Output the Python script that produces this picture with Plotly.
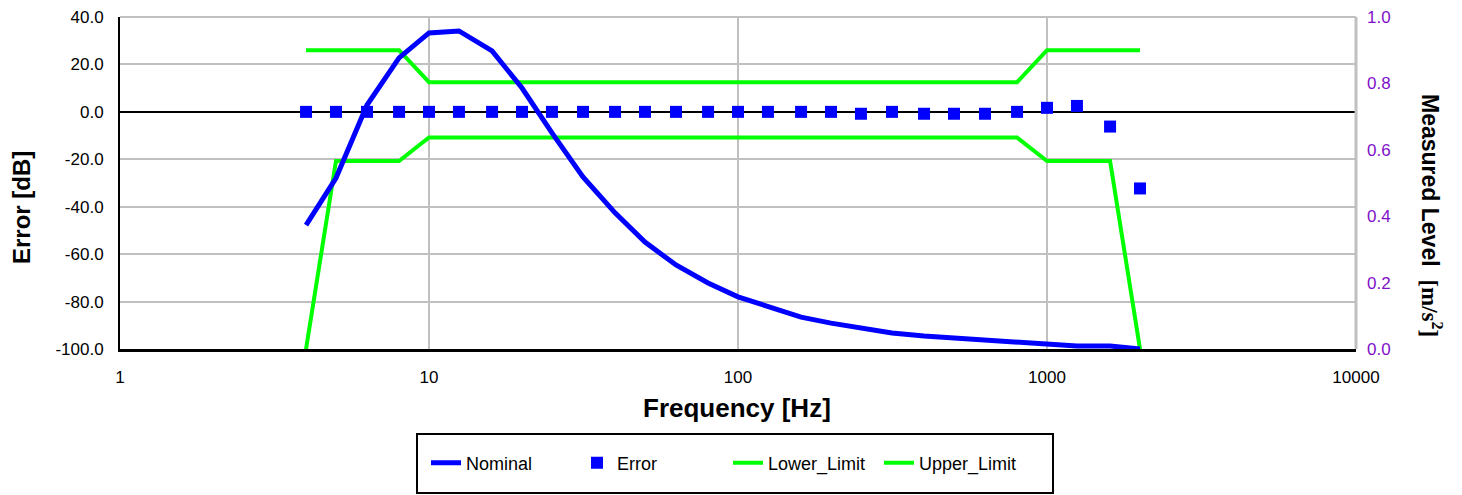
import plotly.graph_objects as go

# ---- data ----
freq = [4, 5, 6.3, 8, 10, 12.5, 16, 20, 25, 31.5, 40, 50, 63, 80, 100, 125, 160,
        200, 250, 315, 400, 500, 630, 800, 1000, 1250, 1600, 2000]
nominal = [0.373, 0.515, 0.735, 0.877, 0.952, 0.958, 0.898, 0.786, 0.651, 0.518,
           0.410, 0.322, 0.253, 0.199, 0.157, 0.127, 0.096, 0.078, 0.063, 0.048,
           0.039, 0.033, 0.027, 0.021, 0.015, 0.009, 0.009, 0.0]
error_db = [0.0, 0.0, 0.0, 0.0, 0.0, 0.0, 0.0, 0.0, 0.0, 0.0, 0.0, 0.0, 0.0, 0.0,
            0.0, 0.0, 0.0, 0.0, -0.8, 0.0, -0.8, -0.8, -0.8, 0.0, 1.7, 2.5, -6.2, -32.3]
lower_limit = [-100, -20.7, -20.7, -20.7, -10.8, -10.8, -10.8, -10.8, -10.8, -10.8,
               -10.8, -10.8, -10.8, -10.8, -10.8, -10.8, -10.8, -10.8, -10.8, -10.8,
               -10.8, -10.8, -10.8, -10.8, -20.7, -20.7, -20.7, -100]
upper_limit = [26, 26, 26, 26, 12.5, 12.5, 12.5, 12.5, 12.5, 12.5, 12.5, 12.5, 12.5,
               12.5, 12.5, 12.5, 12.5, 12.5, 12.5, 12.5, 12.5, 12.5, 12.5, 12.5,
               26, 26, 26, 26]

x_tickvals = [1, 10, 100, 1000, 10000]
x_ticktext = ["1", "10", "100", "1000", "10000"]
y_tickvals = [-100, -80, -60, -40, -20, 0, 20, 40]
y_ticktext = ["-100.0", "-80.0", "-60.0", "-40.0", "-20.0", "0.0", "20.0", "40.0"]
y2_tickvals = [0, 0.2, 0.4, 0.6, 0.8, 1.0]
y2_ticktext = ["0.0", "0.2", "0.4", "0.6", "0.8", "1.0"]

FONT = "Liberation Sans, Arial, sans-serif"
BLUE = "#0000FF"
GREEN = "#00FF00"
PURPLE = "#8010C8"

W, H = 1462, 495
L, R, T, B = 120, 106, 17, 146
pw, ph = W - L - R, H - T - B


def px(x):
    return (x - L) / pw


def py(y):
    return (H - B - y) / ph


fig = go.Figure()
fig.add_trace(go.Scatter(x=freq, y=nominal, name="Nominal", mode="lines",
                         line=dict(color=BLUE, width=5), yaxis="y2"))
fig.add_trace(go.Scatter(x=freq, y=error_db, name="Error", mode="markers",
                         marker=dict(color=BLUE, symbol="square", size=12)))
fig.add_trace(go.Scatter(x=freq, y=lower_limit, name="Lower_Limit", mode="lines",
                         line=dict(color=GREEN, width=4)))
fig.add_trace(go.Scatter(x=freq, y=upper_limit, name="Upper_Limit", mode="lines",
                         line=dict(color=GREEN, width=4)))

fig.update_layout(
    width=W, height=H,
    margin=dict(l=L, r=R, t=T, b=B, pad=0, autoexpand=False),
    plot_bgcolor="white", paper_bgcolor="white",
    font=dict(family=FONT, size=17, color="black"),
    showlegend=True,
    legend=dict(orientation="h", xref="container", yref="container",
                x=426 / W, xanchor="left", y=(H - 463) / H, yanchor="middle",
                entrywidth=106, font=dict(size=18), borderwidth=0,
                bgcolor="rgba(0,0,0,0)", traceorder="normal"),
    xaxis=dict(type="log", range=[0, 4], tickvals=x_tickvals, ticktext=x_ticktext,
               showgrid=True, gridcolor="#C0C0C0", gridwidth=2,
               showline=True, linecolor="black", linewidth=3,
               zeroline=False, ticks="", ticklabelstandoff=11,
               tickfont=dict(size=17)),
    yaxis=dict(range=[-100, 40], tickvals=y_tickvals, ticktext=y_ticktext,
               showgrid=True, gridcolor="#C0C0C0", gridwidth=2,
               showline=True, linecolor="black", linewidth=2,
               zeroline=True, zerolinecolor="black", zerolinewidth=2,
               ticks="", ticklabelstandoff=11, tickfont=dict(size=17)),
    yaxis2=dict(range=[0, 1], overlaying="y", side="right",
                tickvals=y2_tickvals, ticktext=y2_ticktext,
                showgrid=False, zeroline=False, showline=False,
                ticks="", ticklabelstandoff=10,
                tickfont=dict(size=17, color=PURPLE)),
    shapes=[
        dict(type="line", xref="paper", yref="paper", x0=0, x1=1, y0=1, y1=1,
             line=dict(color="#C0C0C0", width=2)),
        dict(type="line", xref="paper", yref="paper", x0=1, x1=1, y0=0, y1=1,
             line=dict(color="#C0C0C0", width=3)),
        dict(type="rect", xref="paper", yref="paper",
             x0=px(417), x1=px(1053), y0=py(434), y1=py(493),
             line=dict(color="black", width=2), fillcolor="rgba(0,0,0,0)"),
    ],
    annotations=[
        dict(text="<b>Frequency [Hz]</b>", xref="paper", yref="paper",
             x=px(737), y=py(408), showarrow=False, xanchor="center", yanchor="middle",
             font=dict(size=26, family=FONT)),
        dict(text="<b>Error [dB]</b>", xref="paper", yref="paper",
             x=px(21), y=py(207), showarrow=False, xanchor="center", yanchor="middle",
             textangle=-90, font=dict(size=24, family=FONT)),
        dict(text="<b>Measured Level</b>  <span style='font-family:Liberation Serif, Times New Roman, serif'><b>[m/s<sup>2</sup>]</b></span>",
             xref="paper", yref="paper",
             x=px(1432), y=py(215), showarrow=False, xanchor="center", yanchor="middle",
             textangle=90, font=dict(size=23, family=FONT)),
    ],
)

fig.write_html("out.html")
